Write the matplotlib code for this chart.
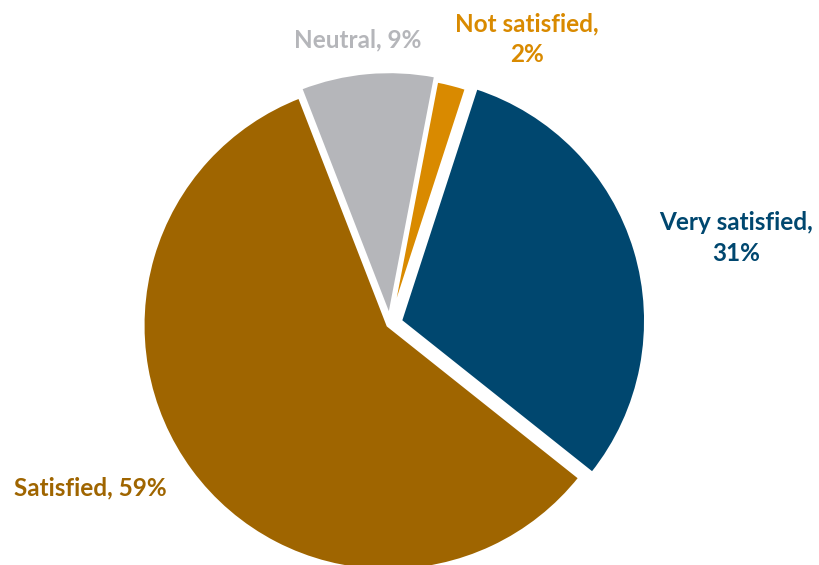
import matplotlib.pyplot as plt

labels = ["Very satisfied", "Satisfied", "Neutral", "Not satisfied"]
shares = [31, 59, 9, 2]
colors = ["#00476f", "#9f6500", "#b5b6ba", "#d98a00"]
explode = [0.045, 0.01, 0.03, 0.01]

plt.rcParams['font.family'] = ['Lato', 'DejaVu Sans']

fig = plt.figure(figsize=(8.19, 5.65), dpi=100)
ax = fig.add_axes([0, 0, 1, 1])

wedges, _ = ax.pie(shares, colors=colors, explode=explode, startangle=72,
                   counterclock=False, radius=1.0,
                   wedgeprops=dict(edgecolor="white", linewidth=2.2))

# pie centre at pixel (390, 324) with radius 245 px
s = 245.0
ax.set_aspect('auto')
ax.set_xlim(-390 / s, (819 - 390) / s)
ax.set_ylim(-(565 - 324) / s, 324 / s)
ax.axis('off')


def px(x, y):
    return (x - 390) / s, (324 - y) / s


# label positions in pixels of the reference
label_pos = [(736, 238), (90, 488), (358, 40), (527, 39)]
label_text = ["Very satisfied,\n31%", "Satisfied, 59%", "Neutral, 9%", "Not satisfied,\n2%"]

for txt, (x, y), c in zip(label_text, label_pos, colors):
    ax.text(*px(x, y), txt, color=c, fontsize=17.5, fontweight='bold',
            ha='center', va='center', linespacing=1.4)

fig.savefig("out.png", dpi=100)
